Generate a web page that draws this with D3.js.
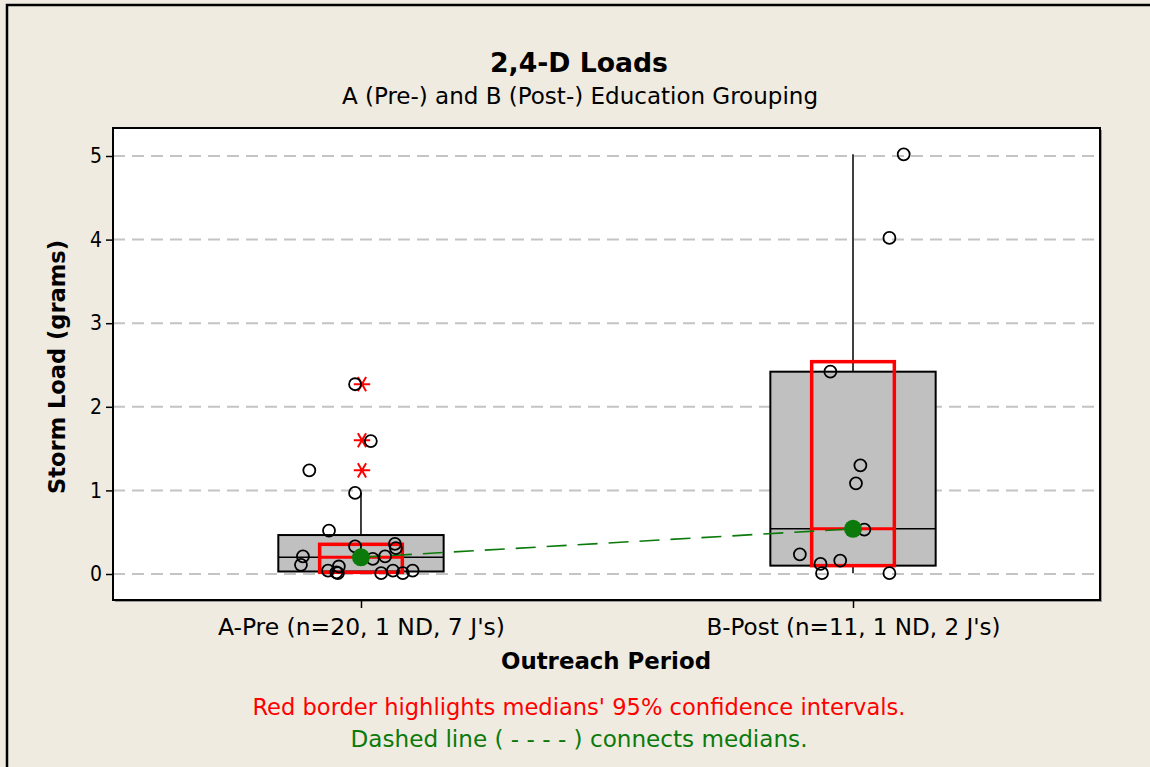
<!DOCTYPE html>
<html>
<head>
<meta charset="utf-8">
<script src="https://cdn.jsdelivr.net/npm/d3@7"></script>
<style>
html,body{margin:0;padding:0;background:#EFEBE1;}
svg{display:block;}
text{font-family:Tahoma,"DejaVu Sans Condensed","DejaVu Sans",sans-serif;}
</style>
</head>
<body>
<svg id="chart" width="1150" height="767"></svg>
<script>
// ---------- data ----------
const categories = ["A-Pre (n=20, 1 ND, 7 J's)", "B-Post (n=11, 1 ND, 2 J's)"];
const catPos = [1, 2];
const yTicks = [0, 1, 2, 3, 4, 5];

const q1 = [0.03, 0.10];
const medians = [0.20, 0.54];
const q3 = [0.466, 2.42];
const whiskerLow = [0.01, 0.01];
const whiskerHigh = [0.97, 5.02];
const ciLow = [0.02, 0.10];
const ciHigh = [0.355, 2.54];

// individual observations (value) and their horizontal jitter (category units)
const pointsA = [2.27, 1.59, 1.24, 0.97, 0.52, 0.36, 0.33, 0.31, 0.21, 0.21, 0.18, 0.11, 0.09, 0.04, 0.04, 0.04, 0.02, 0.01, 0.01, 0.01];
const jitterA = [-0.012, 0.020, -0.105, -0.012, -0.065, 0.069, -0.012, 0.071, -0.118, 0.049, 0.024, -0.122, -0.045, -0.067, 0.065, 0.105, -0.050, -0.047, 0.041, 0.085];
const pointsB = [5.02, 4.02, 2.42, 1.30, 1.085, 0.53, 0.235, 0.16, 0.12, 0.01, 0.01];
const jitterB = [0.103, 0.074, -0.046, 0.015, 0.006, 0.023, -0.108, -0.026, -0.066, -0.063, 0.074];

const outliersA = [2.27, 1.60, 1.24];

const title = "2,4-D Loads";
const subtitle = "A (Pre-) and B (Post-) Education Grouping";
const xTitle = "Outreach Period";
const yTitle = "Storm Load (grams)";
const noteRed = "Red border highlights medians' 95% confidence intervals.";
const noteGreen = "Dashed line ( - - - - ) connects medians.";

// ---------- layout ----------
const FONT = 'Tahoma,"DejaVu Sans Condensed","DejaVu Sans",sans-serif';
const svg = d3.select("#chart");
const plot = {left: 113, right: 1100, top: 128, bottom: 600};

const x = d3.scaleLinear().domain([0.496, 2.502]).range([plot.left, plot.right]);
const y = d3.scaleLinear().domain([-0.311, 5.335]).range([plot.bottom, plot.top]);

const boxHalf = 0.168;
const ciHalf = 0.084;

// outer frame
svg.append("rect").attr("x", 0).attr("y", 0).attr("width", 1150).attr("height", 767).attr("fill", "#EFEBE1");
svg.append("path").attr("d", "M7,780 L7,5 L1160,5").attr("fill", "none").attr("stroke", "#000").attr("stroke-width", 2.5);

// plot background + subtle shadow
svg.append("rect").attr("x", plot.left + 2).attr("y", plot.top + 2)
  .attr("width", plot.right - plot.left).attr("height", plot.bottom - plot.top)
  .attr("fill", "#9a9a9a");
svg.append("rect").attr("x", plot.left).attr("y", plot.top)
  .attr("width", plot.right - plot.left).attr("height", plot.bottom - plot.top)
  .attr("fill", "#fff");

// gridlines
svg.append("g").selectAll("line").data(yTicks).join("line")
  .attr("x1", plot.left).attr("x2", plot.right)
  .attr("y1", d => y(d)).attr("y2", d => y(d))
  .attr("stroke", "#C4C4C4").attr("stroke-width", 2).attr("stroke-dasharray", "12,7");

// axes
const yAxis = d3.axisLeft(y).tickValues(yTicks).tickSize(7).tickFormat(d3.format("d"));
const gy = svg.append("g").attr("transform", `translate(${plot.left},0)`).call(yAxis);
gy.select(".domain").remove();
gy.selectAll(".tick line").attr("stroke", "#000").attr("stroke-width", 1.5);
gy.selectAll(".tick text").attr("font-size", 21).attr("fill", "#000").attr("x", -11)
  .style("font-family", FONT);

const xAxis = d3.axisBottom(x).tickValues(catPos).tickSize(8).tickFormat((d, i) => categories[i]);
const gx = svg.append("g").attr("transform", `translate(0,${plot.bottom})`).call(xAxis);
gx.select(".domain").remove();
gx.selectAll(".tick line").attr("stroke", "#000").attr("stroke-width", 1.5);
gx.selectAll(".tick text").attr("font-size", 23).attr("fill", "#000").attr("y", 35).attr("dy", null)
  .style("font-family", FONT);

// boxes
const boxes = svg.append("g");
catPos.forEach((c, i) => {
  boxes.append("line").attr("x1", x(c)).attr("x2", x(c)).attr("y1", y(q3[i])).attr("y2", y(whiskerHigh[i]))
    .attr("stroke", "#000").attr("stroke-width", 1.5);
  boxes.append("line").attr("x1", x(c)).attr("x2", x(c)).attr("y1", y(q1[i])).attr("y2", y(whiskerLow[i]))
    .attr("stroke", "#000").attr("stroke-width", 1.5);
  boxes.append("rect").attr("x", x(c - boxHalf)).attr("width", x(c + boxHalf) - x(c - boxHalf))
    .attr("y", y(q3[i])).attr("height", y(q1[i]) - y(q3[i]))
    .attr("fill", "#C0C0C0").attr("stroke", "#000").attr("stroke-width", 2);
  boxes.append("line").attr("x1", x(c - boxHalf)).attr("x2", x(c + boxHalf))
    .attr("y1", y(medians[i])).attr("y2", y(medians[i])).attr("stroke", "#000").attr("stroke-width", 1.5);
  boxes.append("rect").attr("x", x(c - ciHalf)).attr("width", x(c + ciHalf) - x(c - ciHalf))
    .attr("y", y(ciHigh[i])).attr("height", y(ciLow[i]) - y(ciHigh[i]))
    .attr("fill", "none").attr("stroke", "#FF0000").attr("stroke-width", 3.5);
  boxes.append("line").attr("x1", x(c - ciHalf)).attr("x2", x(c + ciHalf))
    .attr("y1", y(medians[i])).attr("y2", y(medians[i])).attr("stroke", "#FF0000").attr("stroke-width", 3);
});

// outlier asterisks
const star = d3.symbol().type(d3.symbolAsterisk).size(190);
svg.append("g").selectAll("path").data(outliersA).join("path")
  .attr("d", star)
  .attr("transform", d => `translate(${x(catPos[0]) + 1},${y(d)}) rotate(90)`)
  .attr("fill", "none").attr("stroke", "#FF0000").attr("stroke-width", 2);

// median connect line
svg.append("line")
  .attr("x1", x(catPos[0])).attr("y1", y(medians[0]))
  .attr("x2", x(catPos[1])).attr("y2", y(medians[1]))
  .attr("stroke", "#0B7A0B").attr("stroke-width", 1.6).attr("stroke-dasharray", "20,11");

// individual points
const pts = svg.append("g");
pts.selectAll("circle.a").data(pointsA).join("circle").attr("class", "a")
  .attr("cx", (d, i) => x(catPos[0] + jitterA[i])).attr("cy", d => y(d)).attr("r", 6)
  .attr("fill", "none").attr("stroke", "#000").attr("stroke-width", 1.8);
pts.selectAll("circle.b").data(pointsB).join("circle").attr("class", "b")
  .attr("cx", (d, i) => x(catPos[1] + jitterB[i])).attr("cy", d => y(d)).attr("r", 6)
  .attr("fill", "none").attr("stroke", "#000").attr("stroke-width", 1.8);

// median dots
svg.append("g").selectAll("circle").data(medians).join("circle")
  .attr("cx", (d, i) => x(catPos[i])).attr("cy", d => y(d)).attr("r", 9)
  .attr("fill", "#0B7A0B");

// plot border
svg.append("rect").attr("x", plot.left).attr("y", plot.top)
  .attr("width", plot.right - plot.left).attr("height", plot.bottom - plot.top)
  .attr("fill", "none").attr("stroke", "#000").attr("stroke-width", 2);

// texts
function fit(t, width) {
  const w = t.node().getComputedTextLength();
  if (Math.abs(w - width) > 3) t.attr("textLength", width).attr("lengthAdjust", "spacingAndGlyphs");
}
function txt(s, xx, yy, size, weight, color, width, rot) {
  const t = svg.append("text").text(s).attr("text-anchor", "middle")
    .attr("font-size", size).attr("font-weight", weight).attr("fill", color);
  if (rot) t.attr("transform", `translate(${xx},${yy}) rotate(-90)`);
  else t.attr("x", xx).attr("y", yy);
  if (width) fit(t, width);
  return t;
}
txt(title, 579, 72, 26, "bold", "#000", 178);
txt(subtitle, 580, 104, 23.5, "normal", "#000", 476);
txt(xTitle, 606, 669, 23, "bold", "#000", 210);
txt(yTitle, 65, 367, 23, "bold", "#000", 254, true);
txt(noteRed, 579, 715, 23, "normal", "#FF0000", 653);
txt(noteGreen, 579, 747, 23, "normal", "#0B7A0B", 457);

const tickWidths = [287, 294];
gx.selectAll(".tick text").each(function(d, i) { fit(d3.select(this), tickWidths[i]); });
</script>
</body>
</html>
